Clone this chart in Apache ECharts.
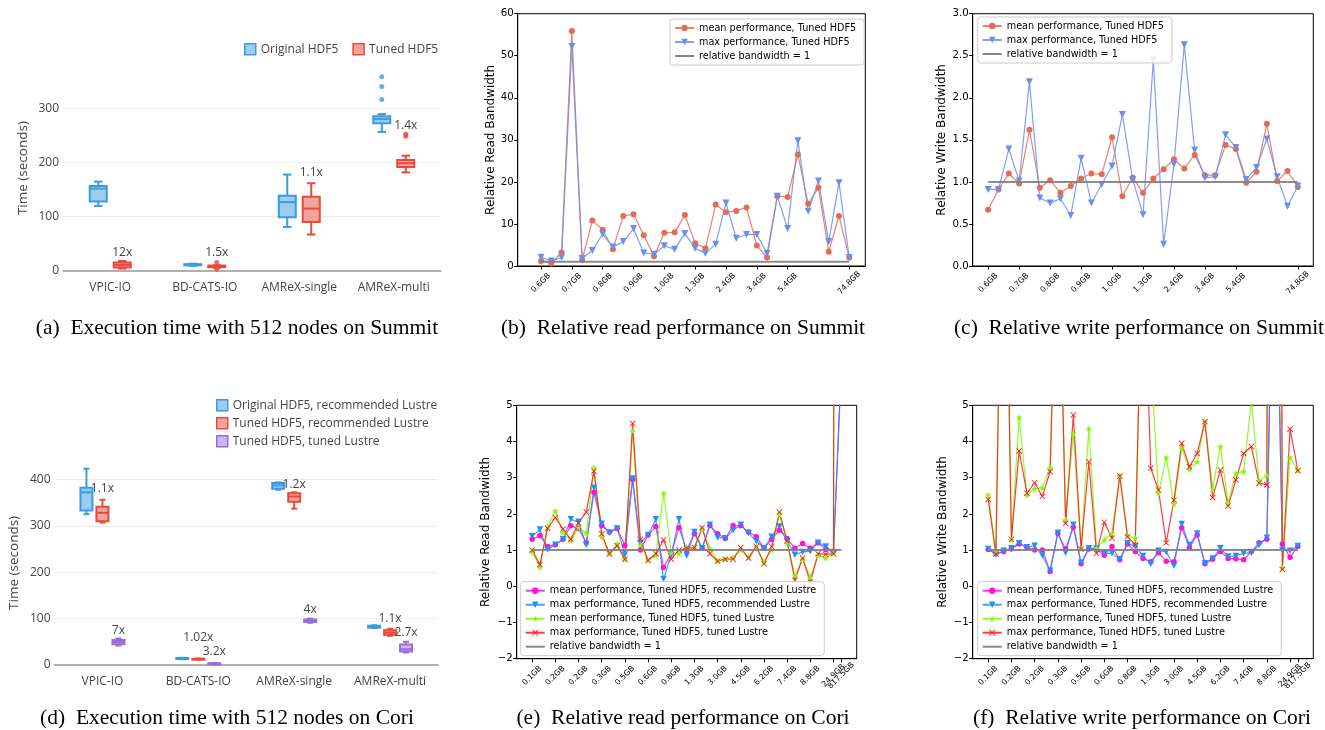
<!DOCTYPE html>
<html>
<head>
<meta charset="utf-8">
<script src="https://cdn.jsdelivr.net/npm/echarts@6/dist/echarts.min.js"></script>
<style>
  html, body { margin: 0; padding: 0; background: #fff; }
  #chart { width: 1325px; height: 730px; }
</style>
</head>
<body>
<div id="chart"></div>
<script>
// ---------------- data ----------------
const benchmarks = ['VPIC-IO', 'BD-CATS-IO', 'AMReX-single', 'AMReX-multi'];

// Summit, 512 nodes: [min, Q1, median, Q3, max] per benchmark (seconds)
const summitOriginal = [[120, 128, 152, 157, 165], [9, 10, 11, 12, 13], [81, 99, 127, 139, 178], [257, 273, 281, 286, 290]];
const summitTuned = [[4, 6, 10.5, 15, 18], [5.5, 6.5, 8, 9.5, 10], [67, 90, 115, 137, 162], [182, 192, 199, 205, 213]];
const summitOriginalOutliers = [[3, 317], [3, 341], [3, 359]];
const summitTunedOutliers = [[1, 15], [1, 2.5], [3, 249], [3, 253]];
const summitSpeedup = ['12x', '1.5x', '1.1x', '1.4x'];
const summitSpeedupAt = [34, 34, 181, 268];

// Cori, 512 nodes
const coriOriginal = [[325, 333, 372, 382, 423], [12.5, 13, 14, 15, 15.5], [377.5, 380, 387, 392, 393.5], [79.5, 80.5, 82.5, 84.5, 85.5]];
const coriTuned = [[307, 310, 328, 341, 356], [12, 12.5, 13, 13.5, 14], [337, 352, 363, 370, 372], [63, 65, 70, 75, 78]];
const coriTunedLustre = [[42, 44.5, 49.5, 54, 57], [1, 1.8, 2.8, 3.8, 4.5], [91, 92.5, 95, 98, 100], [27, 29, 34, 44, 50]];
const coriSpeedup = ['1.1x', '7x', '1.02x', '3.2x', '1.2x', '4x', '1.1x', '2.7x'];
const coriSpeedupCat = [0, 0, 1, 1, 2, 2, 3, 3];
const coriSpeedupBox = [1, 2, 1, 2, 1, 2, 1, 2];
const coriSpeedupAt = [381, 75, 59, 29, 389, 120, 100, 70];

// file sizes on the x axes
const summitSizes = ['0.6GB', '0.7GB', '0.8GB', '0.9GB', '1.0GB', '1.3GB', '2.4GB', '3.4GB', '5.4GB', '74.8GB'];
const summitSizeAt = [0, 3, 6, 9, 12, 15, 18, 21, 24, 30];
const coriSizes = ['0.1GB', '0.2GB', '0.2GB', '0.3GB', '0.5GB', '0.6GB', '0.8GB', '1.3GB', '3.0GB', '4.5GB', '6.2GB', '7.4GB', '8.8GB', '24.9GB', '817.5GB'];
const coriSizeAt = [0, 3, 6, 9, 12, 15, 18, 21, 24, 27, 30, 33, 36, 39, 40];

// Summit relative read bandwidth
const summitReadMean = [1.2, 0.6, 3.2, 55.9, 1.5, 10.8, 8.6, 4.0, 11.9, 12.3, 7.3, 2.3, 7.9, 8.0, 12.1, 5.4, 4.2, 14.6, 12.8, 13.1, 13.9, 4.9, 2.0, 16.6, 16.4, 26.5, 14.8, 18.6, 3.4, 11.9, 2.0];
const summitReadMax = [2.1, 1.2, 2.0, 52.2, 1.8, 3.7, 7.6, 4.5, 5.8, 8.9, 3.1, 2.8, 4.8, 4.0, 7.7, 4.2, 3.0, 5.2, 15.0, 6.6, 7.5, 7.5, 3.0, 16.6, 8.9, 29.8, 13.0, 20.2, 5.8, 19.8, 2.0];

// Summit relative write bandwidth
const summitWriteMean = [0.67, 0.91, 1.10, 0.98, 1.62, 0.93, 1.02, 0.87, 0.95, 1.04, 1.10, 1.09, 1.53, 0.83, 1.05, 0.87, 1.04, 1.15, 1.27, 1.16, 1.32, 1.08, 1.08, 1.44, 1.39, 0.99, 1.12, 1.69, 1.01, 1.13, 0.94];
const summitWriteMax = [0.91, 0.91, 1.39, 1.01, 2.19, 0.81, 0.75, 0.80, 0.60, 1.28, 0.75, 0.97, 1.19, 1.80, 1.03, 0.61, 2.45, 0.26, 1.21, 2.63, 1.38, 1.05, 1.06, 1.56, 1.41, 1.03, 1.17, 1.51, 1.06, 0.71, 0.95];

// Cori relative read bandwidth
const coriReadMeanRec = [1.3, 1.4, 1.1, 1.15, 1.3, 1.67, 1.6, 1.2, 2.6, 1.68, 1.5, 1.6, 1.13, 2.95, 1.0, 1.42, 1.65, 0.52, 0.9, 1.62, 1.0, 1.45, 1.05, 1.68, 1.45, 1.32, 1.68, 1.67, 1.5, 1.37, 1.05, 1.3, 1.55, 1.32, 1.05, 1.18, 1.05, 1.2, 1.02, 0.96, 6.0];
const coriReadMaxRec = [1.38, 1.57, 1.02, 1.15, 1.3, 1.85, 1.78, 1.15, 2.72, 1.73, 1.48, 1.6, 0.88, 2.98, 1.2, 1.42, 1.85, 0.2, 0.87, 1.85, 0.85, 1.5, 1.05, 1.7, 1.35, 1.33, 1.55, 1.7, 1.47, 1.25, 1.05, 1.37, 1.65, 1.25, 0.87, 0.95, 0.97, 1.2, 1.1, 0.95, 6.1];
const coriReadMeanTuned = [0.95, 0.53, 1.65, 2.08, 1.48, 1.27, 1.62, 1.47, 3.28, 1.37, 0.9, 1.18, 0.75, 4.28, 1.15, 0.72, 0.85, 2.57, 0.92, 0.9, 1.1, 1.05, 1.6, 1.05, 0.7, 0.75, 0.8, 1.0, 0.8, 1.1, 0.68, 1.0, 1.98, 1.2, 0.3, 0.75, 0.25, 0.85, 0.78, 0.92, 150];
const coriReadMaxTuned = [1.0, 0.6, 1.6, 1.9, 1.58, 1.3, 1.75, 2.05, 3.18, 1.45, 0.9, 1.12, 0.75, 4.5, 1.3, 0.72, 0.9, 1.28, 0.75, 1.0, 1.05, 1.07, 1.62, 0.9, 0.7, 0.75, 0.75, 1.07, 0.78, 1.1, 0.62, 1.1, 2.05, 1.25, 0.17, 0.78, 0.12, 0.9, 0.88, 0.9, 150];

// Cori relative write bandwidth
const coriWriteMeanRec = [1.02, 0.91, 0.96, 1.03, 1.17, 1.08, 1.0, 1.0, 0.41, 1.46, 1.03, 1.63, 0.62, 1.03, 1.03, 0.86, 1.1, 0.73, 1.17, 0.96, 0.77, 0.68, 0.93, 0.69, 0.68, 1.62, 1.07, 1.42, 0.62, 0.75, 0.96, 0.77, 0.76, 0.73, 0.96, 1.2, 1.3, 12, 1.17, 0.8, 1.1];
const coriWriteMaxRec = [1.03, 0.87, 0.98, 1.05, 1.19, 1.08, 1.12, 0.85, 0.43, 1.48, 0.93, 1.7, 0.65, 1.05, 1.05, 0.91, 0.91, 0.75, 1.19, 1.1, 0.84, 0.62, 0.98, 0.95, 0.57, 1.72, 1.14, 1.46, 0.64, 0.77, 1.05, 0.82, 0.84, 0.91, 0.93, 1.14, 1.34, 12, 1.0, 0.98, 1.11];
const coriWriteMeanTuned = [2.52, 0.96, 14, 1.28, 4.67, 2.52, 2.7, 2.72, 3.28, 11, 1.83, 4.23, 1.03, 4.36, 1.05, 1.28, 1.46, 3.05, 1.39, 1.33, 10, 6.3, 2.57, 3.56, 2.27, 3.81, 3.23, 3.44, 4.55, 2.7, 3.86, 2.31, 3.12, 3.17, 5.1, 2.91, 3.07, 80, 0.5, 3.56, 3.2];
const coriWriteMaxTuned = [2.4, 0.89, 14, 1.3, 3.74, 2.57, 2.86, 2.48, 3.17, 11, 1.74, 4.73, 1.03, 3.44, 0.91, 1.77, 1.33, 3.05, 1.37, 1.15, 10, 3.26, 2.66, 1.2, 2.38, 3.95, 3.3, 3.67, 4.55, 2.45, 3.21, 2.22, 2.94, 3.67, 3.86, 2.85, 2.8, 80, 0.47, 4.34, 3.2];

// ---------------- styles ----------------
const PLOTLY_FONT = 'Open Sans';
const MPL_FONT = 'DejaVu Sans';
const CAPTION_FONT = '21.5px "Liberation Serif"';
const BLUE = '#3a9ce0', BLUE_FILL = 'rgba(58,156,224,0.5)';
const RED = '#e84a3c', RED_FILL = 'rgba(232,74,60,0.5)';
const PURPLE = '#9a6ddc', PURPLE_FILL = 'rgba(154,109,220,0.5)';
const MEAN_COLOR = '#e56b55', MAX_COLOR = '#6a8ff0';
const MAGENTA = '#ff12d2', DODGER = '#1e90ff', LAWN = '#7cfc00', CRIMSON = '#ff1a1a';
const STAR = 'path://M50,2L61.2,36.5L97.6,36.5L68.2,57.9L79.4,92.5L50,71.1L20.6,92.5L31.8,57.9L2.4,36.5L38.8,36.5Z';
const CROSS = 'path://M1,0L5,4L9,0L10,1L6,5L10,9L9,10L5,6L1,10L0,9L4,5L0,1Z';
const BAR_ICON = 'path://M0,0L40,0L40,4L0,4Z';
const REF_NAME = 'relative bandwidth = 1';

// ---------------- helpers ----------------
function boxSeries(name, stats, axisIdx, dx, width, stroke, fill) {
  return {
    type: 'custom', name, xAxisIndex: axisIdx, yAxisIndex: axisIdx,
    data: stats.map((s, i) => [i].concat(s)),
    encode: { x: 0, y: [1, 2, 3, 4, 5] },
    itemStyle: { color: fill, borderColor: stroke },
    renderItem: function (params, api) {
      const c = api.value(0);
      const lo = api.coord([c, api.value(1)]);
      const q1 = api.coord([c, api.value(2)]);
      const md = api.coord([c, api.value(3)]);
      const q3 = api.coord([c, api.value(4)]);
      const hi = api.coord([c, api.value(5)]);
      const cx = lo[0] + dx, hw = width / 2, cap = width / 4;
      const ls = { stroke: stroke, lineWidth: 2, fill: null };
      return {
        type: 'group', children: [
          { type: 'line', shape: { x1: cx, y1: hi[1], x2: cx, y2: q3[1] }, style: ls },
          { type: 'line', shape: { x1: cx, y1: q1[1], x2: cx, y2: lo[1] }, style: ls },
          { type: 'line', shape: { x1: cx - cap, y1: hi[1], x2: cx + cap, y2: hi[1] }, style: ls },
          { type: 'line', shape: { x1: cx - cap, y1: lo[1], x2: cx + cap, y2: lo[1] }, style: ls },
          { type: 'rect', shape: { x: cx - hw, y: q3[1], width: width, height: Math.max(q1[1] - q3[1], 1) },
            style: { fill: fill, stroke: stroke, lineWidth: 2 } },
          { type: 'line', shape: { x1: cx - hw, y1: md[1], x2: cx + hw, y2: md[1] }, style: ls }
        ]
      };
    }
  };
}

function outlierSeries(name, points, axisIdx, dx, color) {
  return {
    type: 'scatter', name, xAxisIndex: axisIdx, yAxisIndex: axisIdx,
    data: points, symbol: 'circle', symbolSize: 5, symbolOffset: [dx, 0],
    itemStyle: { color: color }, silent: true
  };
}

function noteSeries(texts, cats, slots, at, axisIdx, slotOffsets) {
  return {
    type: 'custom', xAxisIndex: axisIdx, yAxisIndex: axisIdx, silent: true,
    data: texts.map((t, i) => [cats[i], at[i], slots[i]]),
    encode: { x: 0, y: 1 },
    renderItem: function (params, api) {
      const p = api.coord([api.value(0), api.value(1)]);
      return {
        type: 'text', x: p[0] + slotOffsets[api.value(2)], y: p[1],
        style: { text: texts[params.dataIndex], fill: '#444', font: '12px "Open Sans"',
                 textAlign: 'center', textVerticalAlign: 'middle' }
      };
    }
  };
}

function plotlyX(idx) {
  return {
    type: 'category', gridIndex: idx, data: benchmarks,
    axisLine: { lineStyle: { color: '#9a9a9a', width: 1.5 } },
    axisTick: { show: false },
    axisLabel: { interval: 0, color: '#444', fontSize: 12, fontFamily: PLOTLY_FONT, margin: 11 },
    splitLine: { show: false }
  };
}

function plotlyY(idx, max, nameGap) {
  return {
    type: 'value', gridIndex: idx, min: 0, max: max, interval: 100,
    name: 'Time (seconds)', nameLocation: 'middle', nameGap: nameGap,
    nameTextStyle: { color: '#444', fontSize: 13.5, fontFamily: PLOTLY_FONT },
    axisLine: { show: false }, axisTick: { show: false },
    axisLabel: { color: '#444', fontSize: 12, fontFamily: PLOTLY_FONT, margin: 4, showMaxLabel: false },
    splitLine: { show: true, showMaxLine: false, lineStyle: { color: '#ececec', width: 1 } }
  };
}

// size labels along the bottom of a matplotlib-style panel
function sizeLabels(ticks, labels) {
  const labelOf = {};
  ticks.forEach((t, i) => { labelOf[t] = labels[i]; });
  return {
    customValues: ticks, formatter: v => (labelOf[v] !== undefined ? labelOf[v] : ''),
    rotate: 45, align: 'center', verticalAlign: 'middle', margin: 17, hideOverlap: false,
    fontSize: 7.8, color: '#000', fontFamily: MPL_FONT
  };
}

function mplX(idx, min, max, ticks, labels, labelCount) {
  const n = labelCount || ticks.length;
  return {
    type: 'value', gridIndex: idx, min: min, max: max,
    axisLine: { show: true, onZero: false, lineStyle: { color: '#000', width: 1 } },
    axisTick: { show: true, customValues: ticks, length: 3.5, lineStyle: { color: '#000' } },
    axisLabel: sizeLabels(ticks.slice(0, n), labels.slice(0, n)),
    splitLine: { show: false }
  };
}

// companion axis carrying the trailing label, which sits too close to its neighbour
function mplXTail(idx, min, max, ticks, labels, from) {
  return {
    type: 'value', gridIndex: idx, min: min, max: max, position: 'bottom', offset: 0,
    axisLine: { show: false }, axisTick: { show: false },
    axisLabel: sizeLabels(ticks.slice(from), labels.slice(from)),
    splitLine: { show: false }
  };
}

function mplY(idx, min, max, interval, name, nameGap, fmt) {
  return {
    type: 'value', gridIndex: idx, min: min, max: max, interval: interval,
    name: name, nameLocation: 'middle', nameGap: nameGap,
    nameTextStyle: { color: '#000', fontSize: 12, fontFamily: MPL_FONT },
    axisLine: { show: true, onZero: false, lineStyle: { color: '#000', width: 1 } },
    axisTick: { show: true, length: 3.5, lineStyle: { color: '#000' } },
    axisLabel: { color: '#000', fontSize: 10.2, fontFamily: MPL_FONT, margin: 4, formatter: fmt },
    splitLine: { show: false }
  };
}

function lineSeries(name, values, axisIdx, color, symbol, size, rotate) {
  return {
    type: 'line', name, xAxisIndex: axisIdx, yAxisIndex: axisIdx,
    data: values.map((v, i) => [i, v]),
    symbol: symbol, symbolSize: size, symbolRotate: rotate || 0, showAllSymbol: true,
    lineStyle: { color: color, width: 1.2, opacity: 0.85 },
    itemStyle: { color: color, borderWidth: 0 },
    clip: true, animation: false, z: 2
  };
}

function refSeries(axisIdx, last) {
  return {
    type: 'line', name: REF_NAME, xAxisIndex: axisIdx, yAxisIndex: axisIdx,
    data: [[0, 1], [last, 1]], symbol: 'none',
    lineStyle: { color: '#808080', width: 2, opacity: 0.9 },
    itemStyle: { color: '#808080' }, z: 3, animation: false
  };
}

function mplLegend(names, left, top, fontSize) {
  const items = names.map(n => (n === REF_NAME ? { name: n, icon: BAR_ICON } : { name: n }));
  return {
    data: items, orient: 'vertical', left: left, top: top,
    itemWidth: 19, itemHeight: 8, itemGap: 4,
    padding: [4, 8, 4, 4],
    backgroundColor: 'rgba(255,255,255,0.85)', borderColor: '#cccccc', borderWidth: 1, borderRadius: 3,
    textStyle: { color: '#000', fontSize: fontSize, fontFamily: MPL_FONT },
    selectedMode: false
  };
}

const fmtMinus = v => (v < 0 ? '\u2212' + Math.abs(v) : String(v));

function caption(text, x, y) {
  return { type: 'text', x: x, y: y,
    style: { text: text, font: CAPTION_FONT, fill: '#000', textAlign: 'center', textVerticalAlign: 'middle' } };
}

// ---------------- option ----------------
const mplGridStyle = { show: true, borderColor: '#000', borderWidth: 1, backgroundColor: 'transparent' };
const summitLineNames = ['mean performance, Tuned HDF5', 'max performance, Tuned HDF5', REF_NAME];
const coriLineNames = ['mean performance, Tuned HDF5, recommended Lustre', 'max performance, Tuned HDF5, recommended Lustre',
                       'mean performance, Tuned HDF5, tuned Lustre', 'max performance, Tuned HDF5, tuned Lustre', REF_NAME];
const coriMain = coriSizeAt.length - 1;

const option = {
  animation: false,
  backgroundColor: '#fff',
  grid: [
    { left: 63, top: 65.5, width: 378, height: 205.2 },
    Object.assign({ left: 517.7, top: 13.7, width: 347.6, height: 252.3 }, mplGridStyle),
    Object.assign({ left: 972.7, top: 13.7, width: 340.6, height: 252.3 }, mplGridStyle),
    { left: 54.5, top: 460.8, width: 383.5, height: 204.2 },
    Object.assign({ left: 516.7, top: 405.3, width: 340, height: 253.4 }, mplGridStyle),
    Object.assign({ left: 972.7, top: 405.3, width: 340.6, height: 253.4 }, mplGridStyle)
  ],
  xAxis: [
    plotlyX(0),
    mplX(1, -2.27, 31.56, summitSizeAt, summitSizes),
    mplX(2, -1.5, 31.5, summitSizeAt, summitSizes),
    plotlyX(3),
    mplX(4, -2, 42, coriSizeAt, coriSizes, coriMain),
    mplX(5, -2, 42, coriSizeAt, coriSizes, coriMain),
    mplXTail(4, -2, 42, coriSizeAt, coriSizes, coriMain),
    mplXTail(5, -2, 42, coriSizeAt, coriSizes, coriMain)
  ],
  yAxis: [
    plotlyY(0, 380, 33),
    mplY(1, 0, 60, 10, 'Relative Read Bandwidth', 14),
    mplY(2, 0, 3, 0.5, 'Relative Write Bandwidth', 25, v => v.toFixed(1)),
    plotlyY(3, 440, 33.5),
    mplY(4, -2, 5, 1, 'Relative Read Bandwidth', 24.5, fmtMinus),
    mplY(5, -2, 5, 1, 'Relative Write Bandwidth', 23.5, fmtMinus)
  ],
  legend: [
    {
      data: [
        { name: 'Original HDF5', icon: 'rect', itemStyle: { color: BLUE_FILL, borderColor: BLUE, borderWidth: 1.5 } },
        { name: 'Tuned HDF5', icon: 'rect', itemStyle: { color: RED_FILL, borderColor: RED, borderWidth: 1.5 } }
      ],
      left: 239, top: 38, itemWidth: 11, itemHeight: 11, itemGap: 14, selectedMode: false,
      textStyle: { color: '#444', fontSize: 12, fontFamily: PLOTLY_FONT }
    },
    mplLegend(summitLineNames, 670, 19, 9.7),
    mplLegend(summitLineNames, 977.7, 17, 9.7),
    {
      data: [
        { name: 'Original HDF5, recommended Lustre', icon: 'rect', itemStyle: { color: BLUE_FILL, borderColor: BLUE, borderWidth: 1.5 } },
        { name: 'Tuned HDF5, recommended Lustre', icon: 'rect', itemStyle: { color: RED_FILL, borderColor: RED, borderWidth: 1.5 } },
        { name: 'Tuned HDF5, tuned Lustre', icon: 'rect', itemStyle: { color: PURPLE_FILL, borderColor: PURPLE, borderWidth: 1.5 } }
      ],
      orient: 'vertical', left: 211, top: 394, itemWidth: 11, itemHeight: 11, itemGap: 5.5, selectedMode: false,
      textStyle: { color: '#444', fontSize: 12, fontFamily: PLOTLY_FONT }
    },
    mplLegend(coriLineNames, 520.7, 581.7, 9.7),
    mplLegend(coriLineNames, 977.7, 581.7, 9.7)
  ],
  series: [
    // (a) Summit execution time
    boxSeries('Original HDF5', summitOriginal, 0, -12, 17, BLUE, BLUE_FILL),
    boxSeries('Tuned HDF5', summitTuned, 0, 12, 17, RED, RED_FILL),
    outlierSeries('Original HDF5', summitOriginalOutliers, 0, -12, BLUE),
    outlierSeries('Tuned HDF5', summitTunedOutliers, 0, 12, RED),
    noteSeries(summitSpeedup, [0, 1, 2, 3], [1, 1, 1, 1], summitSpeedupAt, 0, [-12, 12]),

    // (b) Summit read
    lineSeries(summitLineNames[0], summitReadMean, 1, MEAN_COLOR, 'circle', 6),
    lineSeries(summitLineNames[1], summitReadMax, 1, MAX_COLOR, 'triangle', 7, 180),
    refSeries(1, 30),

    // (c) Summit write
    lineSeries(summitLineNames[0], summitWriteMean, 2, MEAN_COLOR, 'circle', 6),
    lineSeries(summitLineNames[1], summitWriteMax, 2, MAX_COLOR, 'triangle', 7, 180),
    refSeries(2, 30),

    // (d) Cori execution time
    boxSeries('Original HDF5, recommended Lustre', coriOriginal, 3, -16, 12, BLUE, BLUE_FILL),
    boxSeries('Tuned HDF5, recommended Lustre', coriTuned, 3, 0, 12, RED, RED_FILL),
    boxSeries('Tuned HDF5, tuned Lustre', coriTunedLustre, 3, 16, 12, PURPLE, PURPLE_FILL),
    noteSeries(coriSpeedup, coriSpeedupCat, coriSpeedupBox, coriSpeedupAt, 3, [-16, 0, 16]),

    // (e) Cori read
    lineSeries(coriLineNames[0], coriReadMeanRec, 4, MAGENTA, 'circle', 5.5),
    lineSeries(coriLineNames[1], coriReadMaxRec, 4, DODGER, 'triangle', 6.5, 180),
    lineSeries(coriLineNames[2], coriReadMeanTuned, 4, LAWN, STAR, 7),
    lineSeries(coriLineNames[3], coriReadMaxTuned, 4, CRIMSON, CROSS, 6),
    refSeries(4, 40),

    // (f) Cori write
    lineSeries(coriLineNames[0], coriWriteMeanRec, 5, MAGENTA, 'circle', 5.5),
    lineSeries(coriLineNames[1], coriWriteMaxRec, 5, DODGER, 'triangle', 6.5, 180),
    lineSeries(coriLineNames[2], coriWriteMeanTuned, 5, LAWN, STAR, 7),
    lineSeries(coriLineNames[3], coriWriteMaxTuned, 5, CRIMSON, CROSS, 6),
    refSeries(5, 40)
  ],
  graphic: [
    caption('(a)  Execution time with 512 nodes on Summit', 237, 328),
    caption('(b)  Relative read performance on Summit', 683, 328),
    caption('(c)  Relative write performance on Summit', 1139, 328),
    caption('(d)  Execution time with 512 nodes on Cori', 227, 718),
    caption('(e)  Relative read performance on Cori', 683, 718),
    caption('(f)  Relative write performance on Cori', 1142, 718)
  ]
};

const chart = echarts.init(document.getElementById('chart'), null, { renderer: 'canvas', width: 1325, height: 730 });
chart.setOption(option);
</script>
</body>
</html>
